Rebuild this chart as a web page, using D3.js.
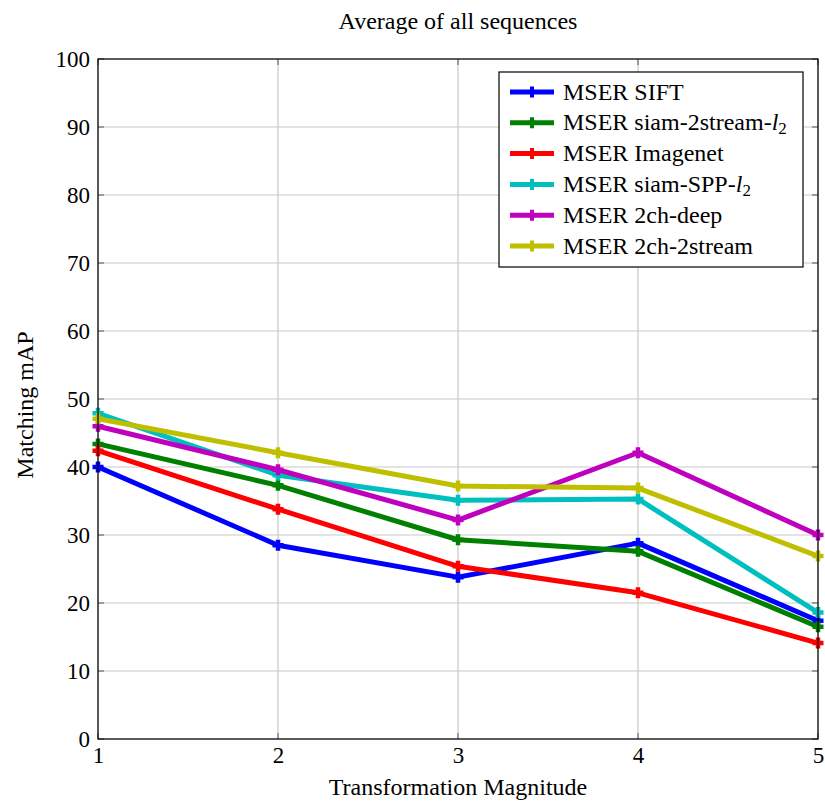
<!DOCTYPE html>
<html>
<head>
<meta charset="utf-8">
<script src="https://cdn.jsdelivr.net/npm/d3@7"></script>
<style>
  body { margin: 0; background: #fff; }
  text { font-family: "Liberation Serif", "DejaVu Serif", serif; fill: #000; }
</style>
</head>
<body>
<div id="chart"></div>
<script>
// data
const xValues = [1, 2, 3, 4, 5];
const seriesNames = ["MSER SIFT", "MSER siam-2stream-l2", "MSER Imagenet", "MSER siam-SPP-l2", "MSER 2ch-deep", "MSER 2ch-2stream"];
const seriesColors = ["#0000ff", "#008000", "#ff0000", "#00bfbf", "#bf00bf", "#bfbf00"];
const siftVals = [40.0, 28.5, 23.8, 28.8, 17.4];
const siam2streamVals = [43.4, 37.3, 29.3, 27.6, 16.5];
const imagenetVals = [42.4, 33.8, 25.4, 21.5, 14.1];
const siamSppVals = [47.9, 38.8, 35.1, 35.3, 18.6];
const deepVals = [46.0, 39.6, 32.2, 42.1, 30.0];
const twoStreamVals = [47.1, 42.1, 37.2, 36.9, 26.9];
const allVals = [siftVals, siam2streamVals, imagenetVals, siamSppVals, deepVals, twoStreamVals];
const yTicks = [0, 10, 20, 30, 40, 50, 60, 70, 80, 90, 100];

const width = 825, height = 803;
const padL = 98, padR = 818, padT = 59, padB = 739;

const svg = d3.select("#chart").append("svg")
  .attr("width", width).attr("height", height);

const x = d3.scaleLinear().domain([1, 5]).range([padL, padR]);
const y = d3.scaleLinear().domain([0, 100]).range([padB, padT]);

// grid
svg.append("g").selectAll("line").data(xValues).enter().append("line")
  .attr("x1", d => x(d)).attr("x2", d => x(d)).attr("y1", padT).attr("y2", padB)
  .attr("stroke", "#c8c8c8").attr("stroke-width", 1.2);
svg.append("g").selectAll("line").data(yTicks).enter().append("line")
  .attr("x1", padL).attr("x2", padR).attr("y1", d => y(d)).attr("y2", d => y(d))
  .attr("stroke", "#c8c8c8").attr("stroke-width", 1.2);

// inner ticks
const tk = 6;
const tickG = svg.append("g").attr("stroke", "#555").attr("stroke-width", 1);
yTicks.forEach(v => {
  tickG.append("line").attr("x1", padL).attr("x2", padL + tk).attr("y1", y(v)).attr("y2", y(v));
  tickG.append("line").attr("x1", padR).attr("x2", padR - tk).attr("y1", y(v)).attr("y2", y(v));
});
xValues.forEach(v => {
  tickG.append("line").attr("x1", x(v)).attr("x2", x(v)).attr("y1", padB).attr("y2", padB - tk);
  tickG.append("line").attr("x1", x(v)).attr("x2", x(v)).attr("y1", padT).attr("y2", padT + tk);
});

// axis labels via d3 axes
const yAxis = svg.append("g").attr("transform", `translate(${padL},0)`)
  .call(d3.axisLeft(y).tickValues(yTicks).tickSize(0).tickPadding(8));
yAxis.select(".domain").remove();
yAxis.selectAll("text").style("font-family", '"Liberation Serif", serif').style("font-size", "23px");

const xAxis = svg.append("g").attr("transform", `translate(0,${padB})`)
  .call(d3.axisBottom(x).tickValues(xValues).tickFormat(d3.format("d")).tickSize(0).tickPadding(8));
xAxis.select(".domain").remove();
xAxis.selectAll("text").style("font-family", '"Liberation Serif", serif').style("font-size", "23px");

// lines
const line = d3.line().x((d, i) => x(xValues[i])).y(d => y(d));
const cross = "M-5.5,0H5.5M0,-5.5V5.5";
allVals.forEach((vals, k) => {
  svg.append("path").datum(vals).attr("d", line)
    .attr("fill", "none").attr("stroke", seriesColors[k]).attr("stroke-width", 5)
    .attr("stroke-linejoin", "round");
  svg.append("g").selectAll("path").data(vals).enter().append("path")
    .attr("d", cross)
    .attr("transform", (d, i) => `translate(${x(xValues[i])},${y(d)})`)
    .attr("stroke", seriesColors[k]).attr("stroke-width", 4.5).attr("fill", "none");
});

// frame
svg.append("rect").attr("x", padL).attr("y", padT).attr("width", padR - padL).attr("height", padB - padT)
  .attr("fill", "none").attr("stroke", "#000").attr("stroke-width", 1.2);

// legend
const lg = svg.append("g");
lg.append("rect").attr("x", 499).attr("y", 72).attr("width", 304).attr("height", 195)
  .attr("fill", "#fff").attr("stroke", "#000").attr("stroke-width", 1.2);
seriesNames.forEach((name, k) => {
  const yy = 92 + k * 30.8;
  lg.append("line").attr("x1", 510).attr("x2", 554).attr("y1", yy).attr("y2", yy)
    .attr("stroke", seriesColors[k]).attr("stroke-width", 5);
  lg.append("path").attr("d", cross).attr("transform", `translate(532,${yy})`)
    .attr("stroke", seriesColors[k]).attr("stroke-width", 4);
  const t = lg.append("text").attr("x", 563).attr("y", yy + 7.5).style("font-size", "24px");
  if (name.endsWith("-l2")) {
    t.append("tspan").text(name.slice(0, -2));
    t.append("tspan").text("l").style("font-style", "italic");
    t.append("tspan").text("2").attr("dy", 4).style("font-size", "17px");
  } else {
    t.text(name);
  }
});

// titles
svg.append("text").attr("x", 458).attr("y", 29).attr("text-anchor", "middle")
  .style("font-size", "24px").text("Average of all sequences");
svg.append("text").attr("x", 458).attr("y", 795).attr("text-anchor", "middle")
  .style("font-size", "24px").text("Transformation Magnitude");
svg.append("text").attr("transform", "translate(33,405) rotate(-90)").attr("text-anchor", "middle")
  .style("font-size", "24px").text("Matching mAP");
</script>
</body>
</html>
